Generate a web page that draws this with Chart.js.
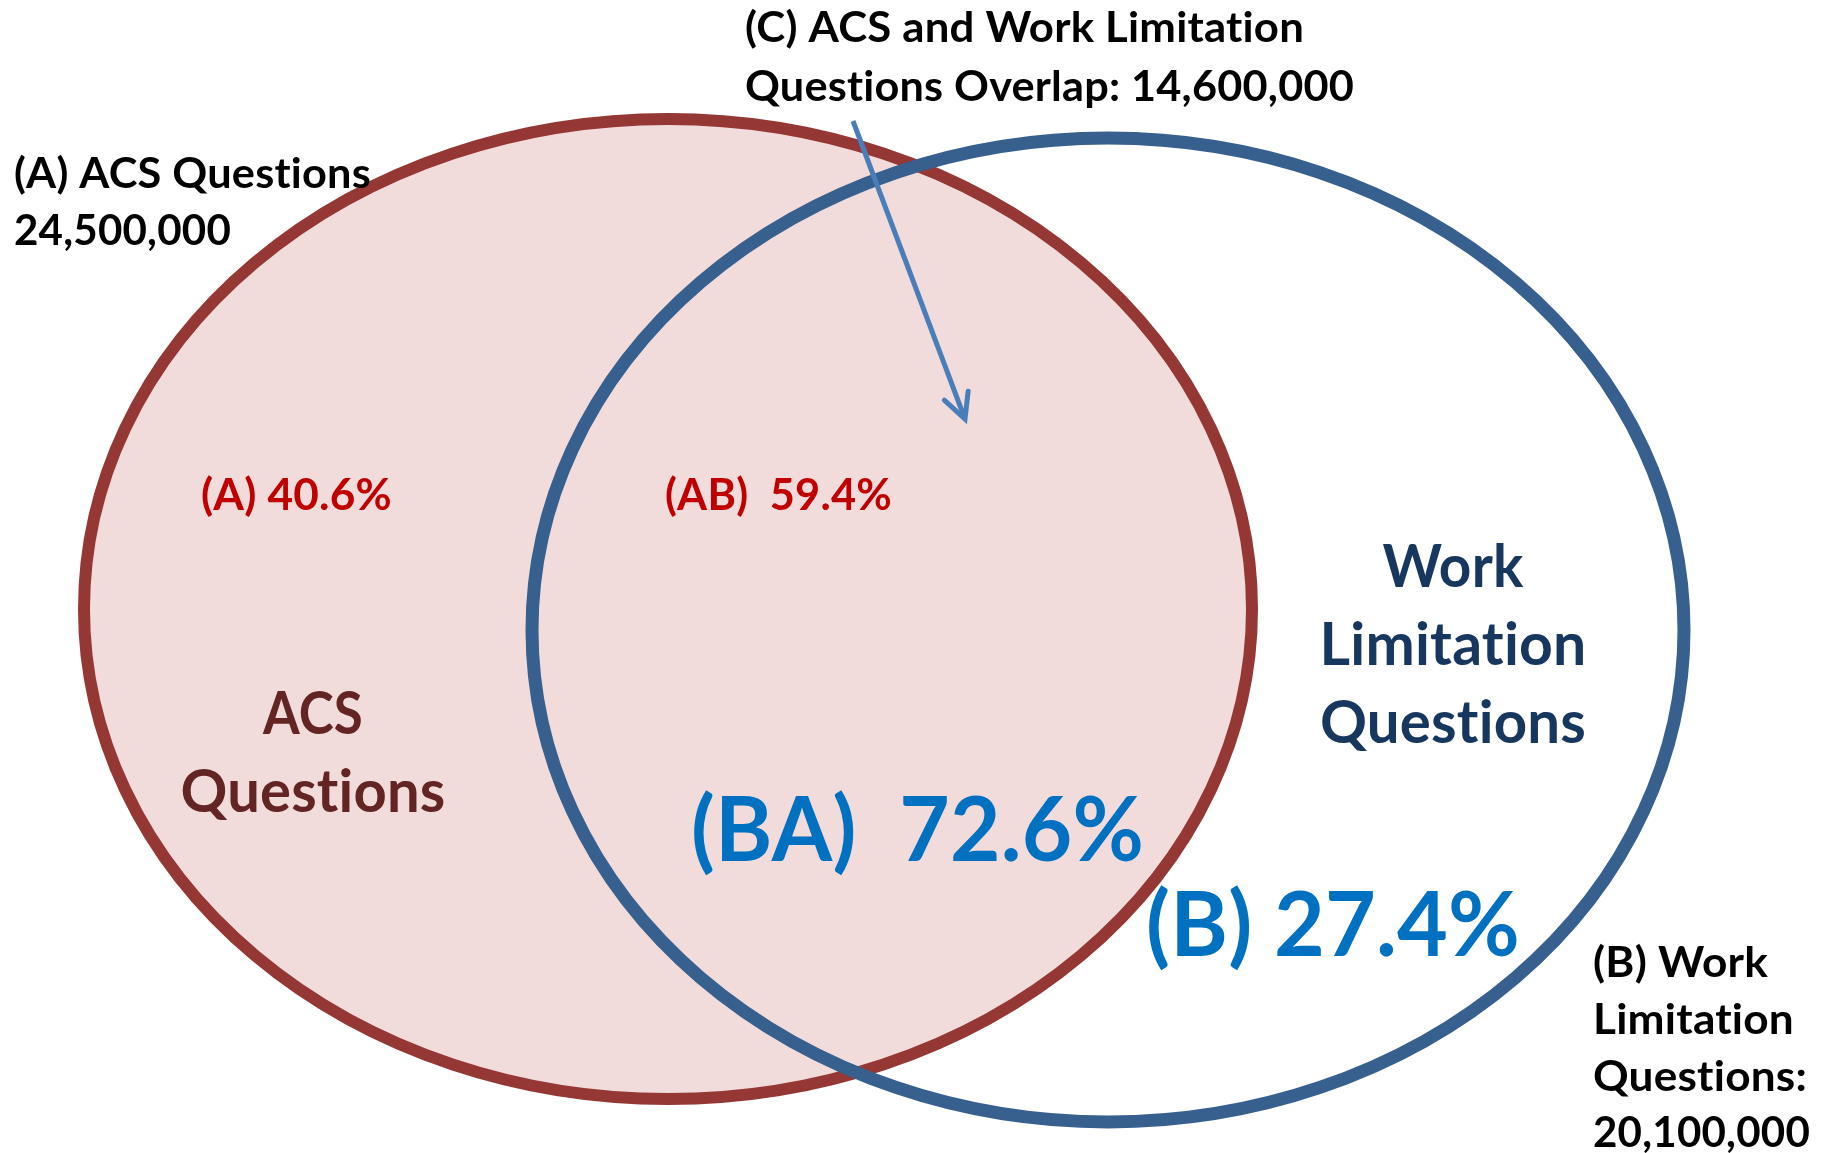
<!DOCTYPE html>
<html>
<head>
<meta charset="utf-8">
<script src="https://cdn.jsdelivr.net/npm/chart.js@4/dist/chart.umd.min.js"></script>
<style>
  html, body { margin: 0; padding: 0; background: #ffffff; }
  #wrap { width: 1830px; height: 1153px; }
</style>
</head>
<body>
<div id="wrap"><canvas id="c" width="1830" height="1153"></canvas></div>
<script>
// ---- data ----
const setNames = ['ACS Questions', 'Work Limitation Questions'];
const setTotals = [24500000, 20100000];
const overlapTotal = 14600000;
const shareLabels = ['(A)', '(AB)', '(BA)', '(B)'];
const sharePercents = [40.6, 59.4, 72.6, 27.4];

// ---- layout (data-space units of the hidden linear scales) ----
const ellipses = [
  { cx: 668, cy: 609, rx: 584, ry: 490, fill: '#F2DCDB', stroke: '#953735', lw: 12 },
  { cx: 1108, cy: 630, rx: 576, ry: 492, fill: null, stroke: '#37608F', lw: 13 }
];
const fmt = n => n.toLocaleString('en-US');
const FONT = 'Lato, "Open Sans", sans-serif';
const CAP = 0.7165;
const texts = [
  { t: '(A) ' + setNames[0], x: 14, y: 173, w: 357, cap: 30, c: '#000000', a: 'left' },
  { t: fmt(setTotals[0]), x: 14, y: 230, w: 217, cap: 30, c: '#000000', a: 'left' },
  { t: '(C) ACS and Work Limitation', x: 745, y: 27, w: 559, cap: 30, c: '#000000', a: 'left' },
  { t: 'Questions Overlap: ' + fmt(overlapTotal), x: 745, y: 86, w: 609, cap: 30, c: '#000000', a: 'left' },
  { t: '(B) Work', x: 1593, y: 962, w: 175, cap: 30, c: '#000000', a: 'left' },
  { t: 'Limitation', x: 1593, y: 1019, w: 201, cap: 30, c: '#000000', a: 'left' },
  { t: 'Questions:', x: 1593, y: 1076, w: 214, cap: 30, c: '#000000', a: 'left' },
  { t: fmt(setTotals[1]), x: 1593, y: 1132, w: 217, cap: 30, c: '#000000', a: 'left' },
  { t: shareLabels[0] + ' ' + sharePercents[0] + '%', x: 201, y: 494, w: 191, cap: 31, c: '#C00000', a: 'left' },
  { t: shareLabels[1] + '  ' + sharePercents[1] + '%', x: 665, y: 494, w: 227, cap: 31, c: '#C00000', a: 'left' },
  { t: 'ACS', x: 313, y: 712, w: 100, cap: 43, c: '#632523', a: 'center' },
  { t: 'Questions', x: 313, y: 790, w: 265, cap: 43, c: '#632523', a: 'center' },
  { t: 'Work', x: 1453, y: 565, w: 141, cap: 43, c: '#17375E', a: 'center' },
  { t: 'Limitation', x: 1453, y: 643, w: 267, cap: 43, c: '#17375E', a: 'center' },
  { t: 'Questions', x: 1453, y: 721, w: 266, cap: 43, c: '#17375E', a: 'center' },
  { t: shareLabels[2] + '  ' + sharePercents[2] + '%', x: 691, y: 829, w: 453, cap: 64, c: '#0070C0', a: 'left' },
  { t: shareLabels[3] + ' ' + sharePercents[3] + '%', x: 1146, y: 924, w: 374, cap: 64, c: '#0070C0', a: 'left' }
];
const arrow = { x1: 853, y1: 121, x2: 965, y2: 419, color: '#4A7EBB', lw: 5, head: 28, ang: 27 };

const vennPlugin = {
  id: 'venn',
  afterDatasetsDraw(chart) {
    const ctx = chart.ctx;
    const xs = chart.scales.x, ys = chart.scales.y;
    const px = v => xs.getPixelForValue(v);
    const py = v => ys.getPixelForValue(v);
    const sx = Math.abs(px(1) - px(0)), sy = Math.abs(py(1) - py(0));
    ctx.save();
    ellipses.forEach(e => {
      if (!e.fill) return;
      ctx.beginPath();
      ctx.ellipse(px(e.cx), py(e.cy), e.rx * sx, e.ry * sy, 0, 0, Math.PI * 2);
      ctx.fillStyle = e.fill;
      ctx.fill();
    });
    ellipses.forEach(e => {
      ctx.beginPath();
      ctx.ellipse(px(e.cx), py(e.cy), e.rx * sx, e.ry * sy, 0, 0, Math.PI * 2);
      ctx.strokeStyle = e.stroke;
      ctx.lineWidth = e.lw;
      ctx.stroke();
    });
    // texts
    texts.forEach(o => {
      const size = o.cap / CAP;
      ctx.font = 'bold ' + size.toFixed(1) + 'px ' + FONT;
      if ('letterSpacing' in ctx) ctx.letterSpacing = '0.2px';
      ctx.fillStyle = o.c;
      ctx.textBaseline = 'alphabetic';
      ctx.textAlign = 'left';
      const m = ctx.measureText(o.t).width;
      const k = o.w / m;
      const x0 = o.a === 'center' ? px(o.x) - o.w / 2 : px(o.x);
      ctx.save();
      ctx.translate(x0, py(o.y) + o.cap / 2);
      ctx.scale(k, 1);
      ctx.fillText(o.t, 0, 0);
      ctx.restore();
    });
    if ('letterSpacing' in ctx) ctx.letterSpacing = '0px';
    // arrow
    const X1 = px(arrow.x1), Y1 = py(arrow.y1), X2 = px(arrow.x2), Y2 = py(arrow.y2);
    ctx.strokeStyle = arrow.color;
    ctx.lineWidth = arrow.lw;
    ctx.lineCap = 'butt';
    ctx.beginPath();
    ctx.moveTo(X1, Y1);
    ctx.lineTo(X2 - (X2 - X1) * 0.01, Y2 - (Y2 - Y1) * 0.01);
    ctx.stroke();
    const back = Math.atan2(Y1 - Y2, X1 - X2);
    const a = arrow.ang * Math.PI / 180;
    ctx.lineCap = 'round';
    ctx.lineJoin = 'miter';
    ctx.beginPath();
    ctx.moveTo(X2 + Math.cos(back + a) * arrow.head, Y2 + Math.sin(back + a) * arrow.head);
    ctx.lineTo(X2, Y2);
    ctx.lineTo(X2 + Math.cos(back - a) * arrow.head, Y2 + Math.sin(back - a) * arrow.head);
    ctx.stroke();
    ctx.restore();
  }
};

new Chart(document.getElementById('c'), {
  type: 'scatter',
  data: { datasets: [{ label: 'sets', data: [], pointRadius: 0 }] },
  options: {
    responsive: false,
    animation: false,
    devicePixelRatio: 1,
    layout: { padding: 0 },
    plugins: { legend: { display: false }, tooltip: { enabled: false }, title: { display: false } },
    scales: {
      x: { type: 'linear', min: 0, max: 1830, display: false },
      y: { type: 'linear', min: 0, max: 1153, reverse: true, display: false }
    }
  },
  plugins: [vennPlugin]
});
</script>
</body>
</html>
